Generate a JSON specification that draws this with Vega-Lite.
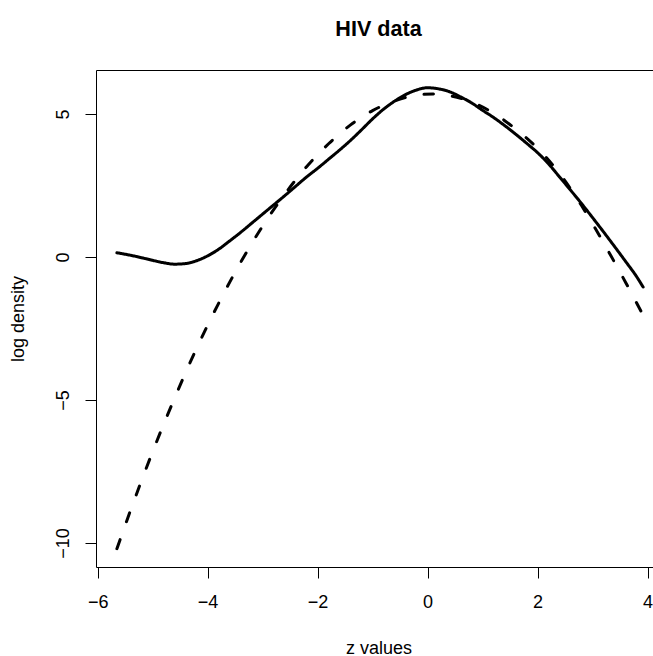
{
  "$schema": "https://vega.github.io/schema/vega-lite/v6.json",
  "width": 557,
  "height": 497,
  "autosize": {"type": "none"},
  "padding": {"left": 96, "top": 70, "right": 0, "bottom": 89},
  "background": "white",
  "config": {
    "view": {"stroke": "black", "strokeWidth": 1},
    "font": "Liberation Sans"
  },
  "title": {
    "text": "HIV data",
    "font": "Liberation Sans",
    "fontSize": 21.6,
    "fontWeight": "bold",
    "color": "black",
    "anchor": "middle",
    "baseline": "alphabetic",
    "offset": 12,
    "dx": 4
  },
  "data": {
    "values": [
      {"curve": "solid", "z": -5.65, "logdens": 0.15},
      {"curve": "solid", "z": -5.4, "logdens": 0.06},
      {"curve": "solid", "z": -5.1, "logdens": -0.07},
      {"curve": "solid", "z": -4.8, "logdens": -0.2},
      {"curve": "solid", "z": -4.6, "logdens": -0.25},
      {"curve": "solid", "z": -4.4, "logdens": -0.23},
      {"curve": "solid", "z": -4.2, "logdens": -0.13},
      {"curve": "solid", "z": -4.0, "logdens": 0.04},
      {"curve": "solid", "z": -3.8, "logdens": 0.27},
      {"curve": "solid", "z": -3.6, "logdens": 0.56},
      {"curve": "solid", "z": -3.4, "logdens": 0.86},
      {"curve": "solid", "z": -3.2, "logdens": 1.18},
      {"curve": "solid", "z": -3.0, "logdens": 1.5},
      {"curve": "solid", "z": -2.8, "logdens": 1.82},
      {"curve": "solid", "z": -2.6, "logdens": 2.14},
      {"curve": "solid", "z": -2.4, "logdens": 2.47},
      {"curve": "solid", "z": -2.2, "logdens": 2.8},
      {"curve": "solid", "z": -2.0, "logdens": 3.1},
      {"curve": "solid", "z": -1.8, "logdens": 3.42},
      {"curve": "solid", "z": -1.6, "logdens": 3.74},
      {"curve": "solid", "z": -1.4, "logdens": 4.08},
      {"curve": "solid", "z": -1.2, "logdens": 4.45},
      {"curve": "solid", "z": -1.0, "logdens": 4.83},
      {"curve": "solid", "z": -0.8, "logdens": 5.17},
      {"curve": "solid", "z": -0.6, "logdens": 5.45},
      {"curve": "solid", "z": -0.4, "logdens": 5.68},
      {"curve": "solid", "z": -0.2, "logdens": 5.84},
      {"curve": "solid", "z": 0.0, "logdens": 5.92},
      {"curve": "solid", "z": 0.2, "logdens": 5.88},
      {"curve": "solid", "z": 0.4, "logdens": 5.78},
      {"curve": "solid", "z": 0.6, "logdens": 5.6},
      {"curve": "solid", "z": 0.8, "logdens": 5.39},
      {"curve": "solid", "z": 1.0, "logdens": 5.13},
      {"curve": "solid", "z": 1.2, "logdens": 4.88},
      {"curve": "solid", "z": 1.4, "logdens": 4.6},
      {"curve": "solid", "z": 1.6, "logdens": 4.3},
      {"curve": "solid", "z": 1.8, "logdens": 3.98},
      {"curve": "solid", "z": 2.0, "logdens": 3.65},
      {"curve": "solid", "z": 2.2, "logdens": 3.26},
      {"curve": "solid", "z": 2.4, "logdens": 2.8},
      {"curve": "solid", "z": 2.6, "logdens": 2.34},
      {"curve": "solid", "z": 2.8, "logdens": 1.87},
      {"curve": "solid", "z": 3.0, "logdens": 1.38},
      {"curve": "solid", "z": 3.2, "logdens": 0.88},
      {"curve": "solid", "z": 3.4, "logdens": 0.37},
      {"curve": "solid", "z": 3.6, "logdens": -0.15},
      {"curve": "solid", "z": 3.8, "logdens": -0.68},
      {"curve": "solid", "z": 3.92, "logdens": -1.05},
      {"curve": "dashed", "z": -5.65, "logdens": -10.2},
      {"curve": "dashed", "z": -5.4, "logdens": -8.85},
      {"curve": "dashed", "z": -5.0, "logdens": -6.81},
      {"curve": "dashed", "z": -4.6, "logdens": -4.93},
      {"curve": "dashed", "z": -4.2, "logdens": -3.19},
      {"curve": "dashed", "z": -3.8, "logdens": -1.62},
      {"curve": "dashed", "z": -3.4, "logdens": -0.19},
      {"curve": "dashed", "z": -3.0, "logdens": 1.08},
      {"curve": "dashed", "z": -2.6, "logdens": 2.19},
      {"curve": "dashed", "z": -2.2, "logdens": 3.16},
      {"curve": "dashed", "z": -1.8, "logdens": 3.96},
      {"curve": "dashed", "z": -1.4, "logdens": 4.62},
      {"curve": "dashed", "z": -1.0, "logdens": 5.12},
      {"curve": "dashed", "z": -0.6, "logdens": 5.46},
      {"curve": "dashed", "z": -0.2, "logdens": 5.66},
      {"curve": "dashed", "z": 0.1, "logdens": 5.7},
      {"curve": "dashed", "z": 0.4, "logdens": 5.64},
      {"curve": "dashed", "z": 0.8, "logdens": 5.42},
      {"curve": "dashed", "z": 1.2, "logdens": 5.03},
      {"curve": "dashed", "z": 1.6, "logdens": 4.48},
      {"curve": "dashed", "z": 2.0, "logdens": 3.8},
      {"curve": "dashed", "z": 2.4, "logdens": 2.92},
      {"curve": "dashed", "z": 2.8, "logdens": 1.8},
      {"curve": "dashed", "z": 3.2, "logdens": 0.5},
      {"curve": "dashed", "z": 3.6, "logdens": -0.88},
      {"curve": "dashed", "z": 3.9, "logdens": -1.96}
    ]
  },
  "mark": {
    "type": "line",
    "color": "black",
    "strokeWidth": 3,
    "strokeCap": "round",
    "strokeJoin": "round",
    "interpolate": "monotone"
  },
  "encoding": {
    "x": {
      "field": "z",
      "type": "quantitative",
      "scale": {"domain": [-6.03, 4.1], "nice": false, "zero": false},
      "axis": {
        "title": "z values",
        "values": [-6, -4, -2, 0, 2, 4],
        "format": "d",
        "domain": false,
        "grid": false,
        "tickColor": "black",
        "tickSize": 11,
        "tickWidth": 1,
        "labelFont": "Liberation Sans",
        "labelFontSize": 18,
        "labelColor": "black",
        "labelBaseline": "alphabetic",
        "labelPadding": 29,
        "labelFlush": false,
        "labelOverlap": false,
        "titleFont": "Liberation Sans",
        "titleFontSize": 18,
        "titleFontWeight": "normal",
        "titleColor": "black",
        "titleBaseline": "alphabetic",
        "titleX": 282.5,
        "titleY": 86
      }
    },
    "y": {
      "field": "logdens",
      "type": "quantitative",
      "scale": {"domain": [-10.84, 6.54], "nice": false, "zero": false},
      "axis": {
        "title": "log density",
        "values": [-10, -5, 0, 5],
        "format": "d",
        "domain": false,
        "grid": false,
        "tickColor": "black",
        "tickSize": 11,
        "tickWidth": 1,
        "labelFont": "Liberation Sans",
        "labelFontSize": 18,
        "labelColor": "black",
        "labelAngle": -90,
        "labelAlign": "center",
        "labelBaseline": "alphabetic",
        "labelPadding": 17,
        "labelFlush": false,
        "labelOverlap": false,
        "titleFont": "Liberation Sans",
        "titleFontSize": 18,
        "titleFontWeight": "normal",
        "titleColor": "black",
        "titleAngle": -90,
        "titleAlign": "center",
        "titleBaseline": "alphabetic",
        "titleX": -73,
        "titleY": 248.5
      }
    },
    "strokeDash": {
      "field": "curve",
      "type": "nominal",
      "scale": {"domain": ["solid", "dashed"], "range": [[1, 0], [9.5, 19]]},
      "legend": null
    }
  }
}
